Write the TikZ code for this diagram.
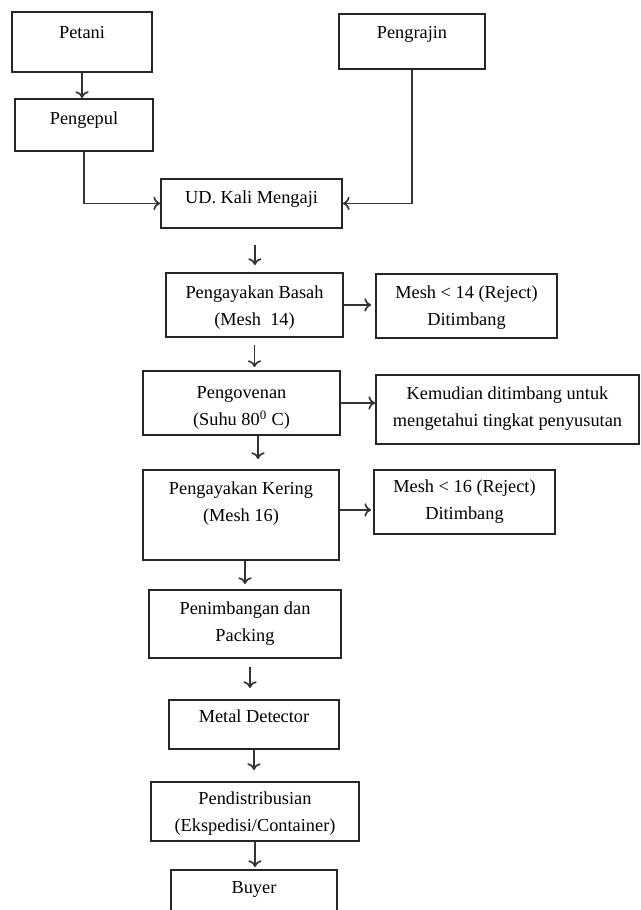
\documentclass[tikz,border=0pt]{standalone}
\usepackage{fontspec}
\setmainfont{Liberation Serif}
\usetikzlibrary{arrows.meta}
\tikzset{
box/.style={draw=black!85, line width=1.1pt, inner sep=0pt, align=center, anchor=north,
  font=\fontsize{11}{16.2}\selectfont},
flow/.style={draw=black!80, line width=1pt, -{To[length=4pt,width=8pt]}}
}

\begin{document}
\begin{tikzpicture}[x=0.6pt, y=-0.6pt]
  \useasboundingbox (0,0) rectangle (641,910);
  \node[box, minimum width=84pt, text height=16.2pt, text depth=19.8pt] (petani) at (82,11) {Petani};
  \node[box, minimum width=82.8pt, text height=15.6pt, text depth=15.6pt] (pengepul) at (84,98) {Pengepul};
  \node[box, minimum width=87.6pt, text height=15pt, text depth=18pt] (pengrajin) at (412,13) {Pengrajin};
  \node[box, minimum width=108.6pt, text height=15pt, text depth=14.4pt] (ud) at (251.5,178) {UD. Kali Mengaji};
  \node[box, minimum width=106.2pt, text height=31.8pt, text depth=6.6pt] (basah) at (254.5,272) {Pengayakan Basah\\(Mesh~~14)};
  \node[box, minimum width=108.6pt, text height=31.2pt, text depth=7.2pt] (reject14) at (466.5,273) {Mesh < 14 (Reject)\\Ditimbang};
  \node[box, minimum width=118.2pt, text height=33pt, text depth=5.4pt] (oven) at (241.5,370) {Pengovenan\\(Suhu 80\textsuperscript{0} C)};
  \node[box, minimum width=157.8pt, text height=31.2pt, text depth=10.2pt] (susut) at (507.5,374) {Kemudian ditimbang untuk\\mengetahui tingkat penyusutan};
  \node[box, minimum width=117.6pt, text height=31.2pt, text depth=22.8pt] (kering) at (241,469) {Pengayakan Kering\\(Mesh 16)};
  \node[box, minimum width=108.6pt, text height=30pt, text depth=8.4pt] (reject16) at (464.5,469) {Mesh < 16 (Reject)\\Ditimbang};
  \node[box, minimum width=115.2pt, text height=31.2pt, text depth=9.6pt] (packing) at (245,589) {Penimbangan dan\\Packing};
  \node[box, minimum width=102pt, text height=13.8pt, text depth=15.6pt] (metal) at (254,699) {Metal Detector};
  \node[box, minimum width=124.8pt, text height=30pt, text depth=5.4pt] (distribusi) at (255,781) {Pendistribusian\\(Ekspedisi/Container)};
  \node[box, minimum width=99.6pt, text height=14.4pt, text depth=16.2pt] (buyer) at (254,869) {Buyer};

  \draw[flow] (petani.south) -- (petani.south |- pengepul.north);
  \draw[flow] (pengepul.south) |- (ud.west);
  \draw[flow] (pengrajin.south) |- (ud.east);
  \draw[flow, shorten <=9.6pt, shorten >=4.2pt] ([xshift=2pt]ud.south) -- ([xshift=2pt]ud.south |- basah.north);
  \draw[flow, shorten <=4.2pt, shorten >=1.8pt] (basah.south) -- (basah.south |- oven.north);
  \draw[flow, shorten >=6pt] ([xshift=9.9pt]oven.south) -- ([xshift=9.9pt]oven.south |- kering.north);
  \draw[flow, shorten >=3pt] ([xshift=2.4pt]kering.south) -- ([xshift=2.4pt]kering.south |- packing.north);
  \draw[flow, shorten <=4.8pt, shorten >=6.6pt] ([xshift=3pt]packing.south) -- ([xshift=3pt]packing.south |- metal.north);
  \draw[flow, shorten >=6.6pt] (metal.south) -- (metal.south |- distribusi.north);
  \draw[flow, shorten >=1.2pt] (distribusi.south) -- (distribusi.south |- buyer.north);
  \draw[flow, shorten >=2.4pt] (basah.east) -- (basah.east -| reject14.west);
  \draw[flow] (oven.east) -- (oven.east -| susut.west);
  \draw[flow, shorten >=1.2pt] ([yshift=3pt]kering.east) -- ([yshift=3pt]kering.east -| reject16.west);
\end{tikzpicture}
\end{document}
